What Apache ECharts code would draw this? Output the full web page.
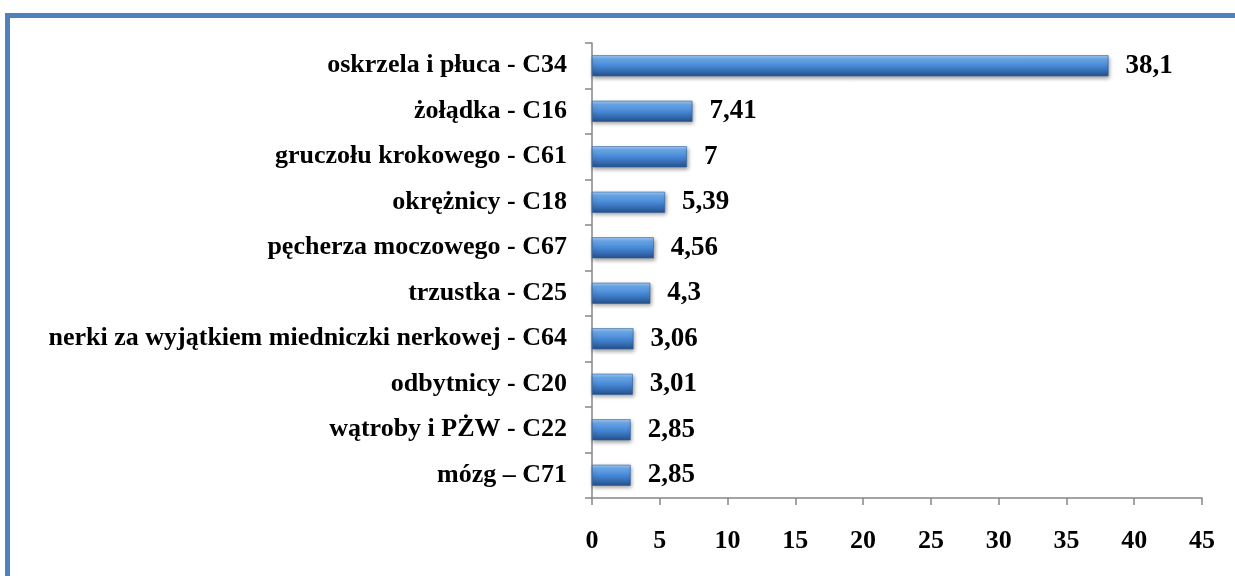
<!DOCTYPE html>
<html lang="pl">
<head>
<meta charset="UTF-8">
<title>nowotwory - wykres</title>
<style>
  html, body { margin: 0; padding: 0; background: #fff; }
  #chart { width: 1235px; height: 576px; }
</style>
</head>
<body>
<div id="chart"></div>
<script src="https://cdn.jsdelivr.net/npm/echarts@6/dist/echarts.min.js"></script>
<script>
var categories = [
  'oskrzela i płuca - C34',
  'żołądka - C16',
  'gruczołu krokowego - C61',
  'okrężnicy - C18',
  'pęcherza moczowego - C67',
  'trzustka - C25',
  'nerki za wyjątkiem miedniczki nerkowej - C64',
  'odbytnicy - C20',
  'wątroby i PŻW - C22',
  'mózg – C71'
];
var values = [38.1, 7.41, 7, 5.39, 4.56, 4.3, 3.06, 3.01, 2.85, 2.85];

var font = 'Liberation Serif';

var chart = echarts.init(document.getElementById('chart'));
var option = {
  animation: false,
  graphic: [{
    type: 'rect',
    shape: { x: 7.5, y: 15.5, width: 1400, height: 800 },
    style: { fill: 'none', stroke: '#4f81bd', lineWidth: 5 },
    z: 100
  }],
  grid: { left: 592, right: 33, top: 43, bottom: 78 },
  xAxis: {
    type: 'value',
    min: 0,
    max: 45,
    interval: 5,
    axisLine: { show: true, lineStyle: { color: '#868686', width: 1.5 } },
    axisTick: { show: true, length: 7, lineStyle: { color: '#868686', width: 1.5 } },
    splitLine: { show: false },
    axisLabel: {
      margin: 30,
      color: '#000',
      fontFamily: font,
      fontWeight: 'bold',
      fontSize: 26
    }
  },
  yAxis: {
    type: 'category',
    inverse: true,
    data: categories,
    axisLine: { show: true, lineStyle: { color: '#868686', width: 1.5 } },
    axisTick: { show: true, length: 7, lineStyle: { color: '#868686', width: 1.5 } },
    axisLabel: {
      margin: 25,
      color: '#000',
      fontFamily: font,
      fontWeight: 'bold',
      fontSize: 26
    }
  },
  series: [{
    type: 'bar',
    data: values,
    barWidth: 21,
    itemStyle: {
      color: new echarts.graphic.LinearGradient(0, 0, 0, 1, [
        { offset: 0, color: '#a6d0f8' },
        { offset: 0.18, color: '#6aa8ea' },
        { offset: 0.55, color: '#4384d2' },
        { offset: 1, color: '#25508a' }
      ]),
      borderColor: '#2f5f9e',
      borderWidth: 0.6,
      shadowColor: 'rgba(0,0,0,0.4)',
      shadowBlur: 4,
      shadowOffsetX: 1,
      shadowOffsetY: 2
    },
    label: {
      show: true,
      position: 'right',
      distance: 17,
      color: '#000',
      fontFamily: font,
      fontWeight: 'bold',
      fontSize: 27,
      formatter: function (p) { return String(p.value).replace('.', ','); }
    }
  }]
};
chart.setOption(option);
</script>
</body>
</html>
